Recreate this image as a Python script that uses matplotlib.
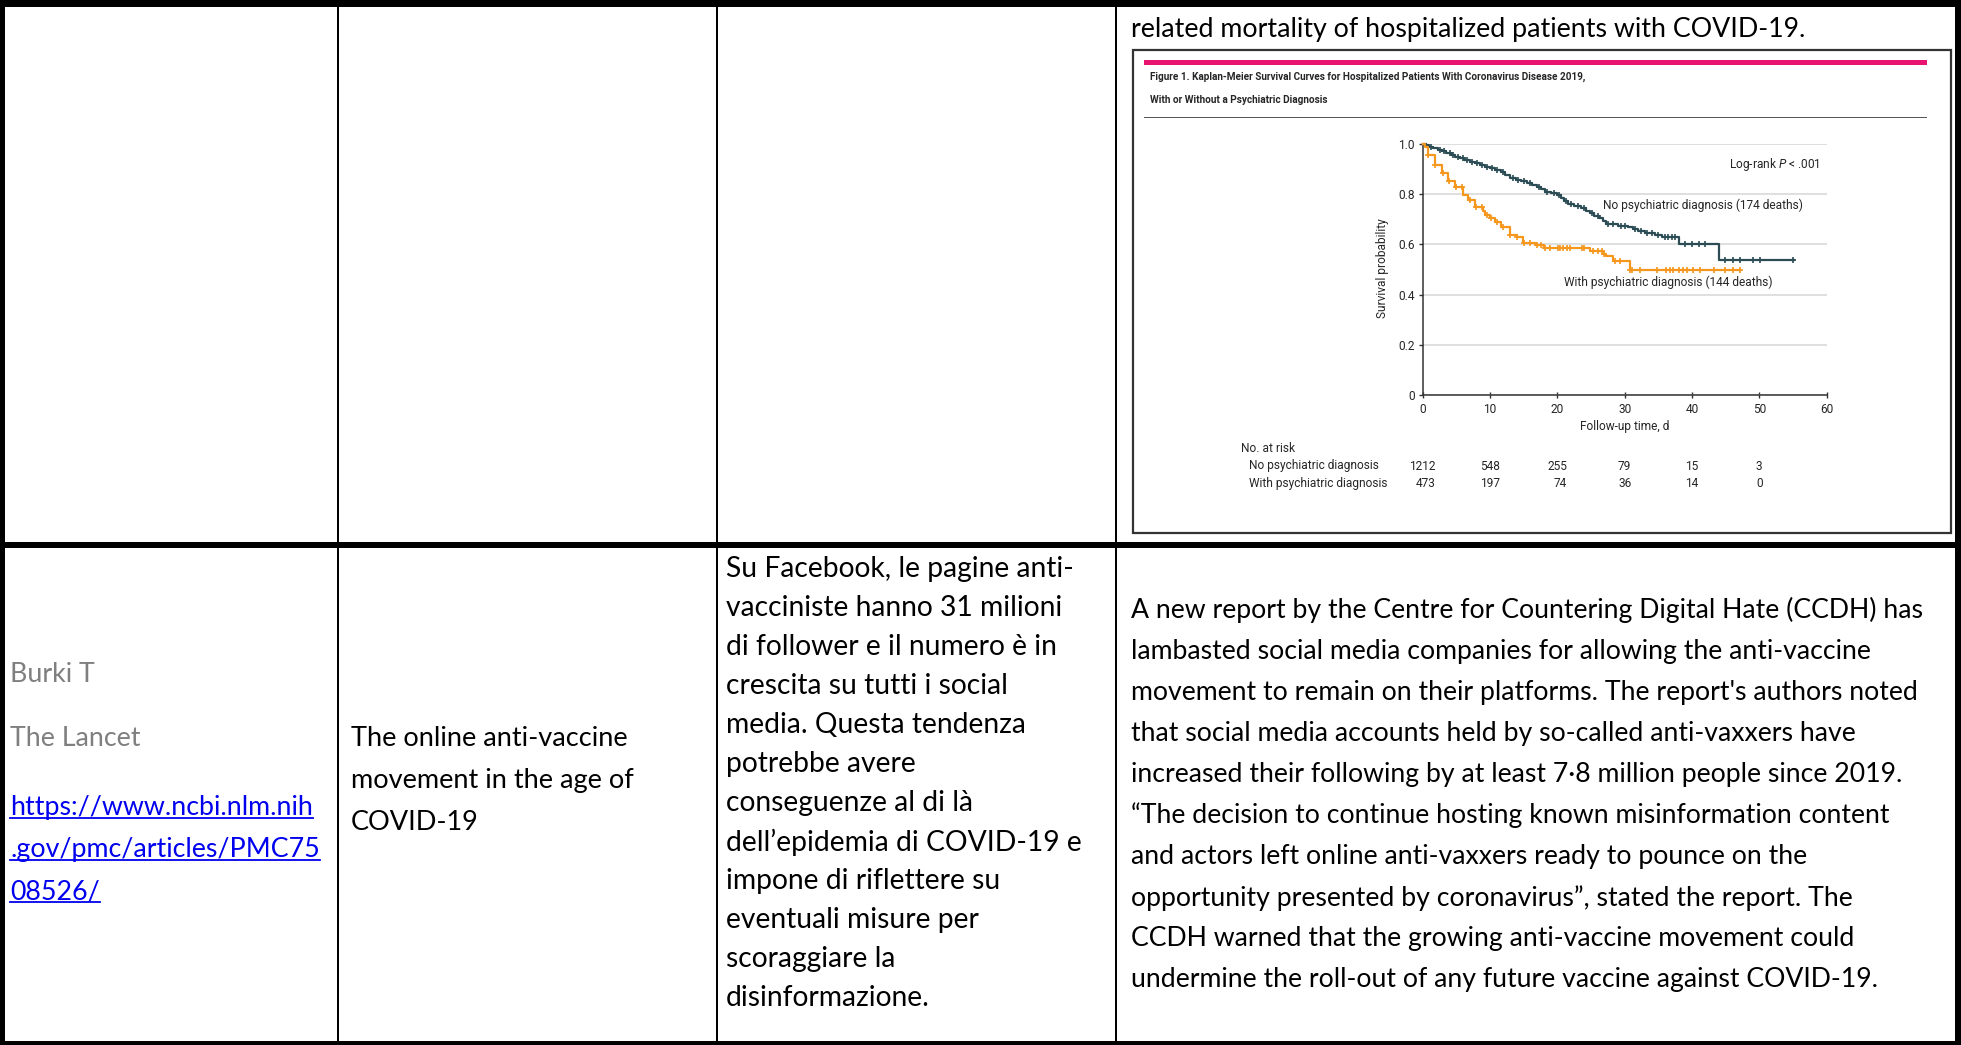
import numpy as np
import matplotlib
matplotlib.use('Agg')
import matplotlib.pyplot as plt
from matplotlib import font_manager
from matplotlib.patches import Rectangle
import matplotlib.transforms as mtransforms

# Kaplan-Meier steps, no psychiatric diagnosis (days, survival)
no_t = [0, 0.5, 1.0, 1.6, 2.2, 2.8, 3.5, 4.2, 4.8, 5.5, 6.2, 7.0, 7.8, 8.5, 9.2,
        10.0, 10.8, 11.6, 12.3, 13.0, 13.8, 14.6, 15.5, 16.3, 17.0, 17.6, 18.2,
        19.0, 20.0, 20.5, 21.0, 21.6, 22.5, 23.5, 24.2, 24.8, 25.5, 26.2, 26.8,
        27.2, 29.0, 30.5, 31.2, 32.0, 33.0, 34.5, 35.5, 38.0, 44.0, 55.2]
no_s = [1.0, 0.995, 0.99, 0.985, 0.978, 0.972, 0.965, 0.958, 0.95, 0.943, 0.936,
        0.93, 0.925, 0.918, 0.91, 0.903, 0.896, 0.888, 0.877, 0.866, 0.858, 0.852,
        0.846, 0.838, 0.83, 0.82, 0.81, 0.803, 0.797, 0.785, 0.773, 0.762, 0.752,
        0.745, 0.735, 0.725, 0.715, 0.705, 0.695, 0.68, 0.675, 0.668, 0.66, 0.652,
        0.645, 0.638, 0.628, 0.6, 0.538, 0.538]
no_cens = [1.3, 2.5, 3.2, 4.0, 4.5, 5.2, 6.0, 6.6, 7.3, 8.0, 8.8, 9.5, 10.3, 11.0,
           12.0, 13.4, 14.2, 15.0, 16.0, 17.3, 18.5, 19.5, 20.2, 21.3, 22.0, 23.0,
           24.0, 25.2, 26.0, 27.5, 28.3, 29.5, 30.0, 31.5, 32.5, 33.3, 34.0, 35.0,
           36.0, 36.5, 37.0, 37.5, 39.0, 40.0, 41.0, 41.9, 44.9, 46.1, 47.1, 49.1,
           50.1, 55.0]

# with psychiatric diagnosis
w_t = [0, 0.3, 0.85, 1.8, 2.8, 3.8, 4.8, 6.0, 6.8, 7.8, 9.0, 9.3, 10.0, 10.7, 11.7,
       13.0, 14.0, 14.9, 16.9, 18.0, 24.9, 26.8, 27.3, 28.3, 30.8, 47.2]
w_s = [1.0, 0.99, 0.956, 0.918, 0.886, 0.853, 0.827, 0.797, 0.777, 0.748, 0.735,
       0.717, 0.704, 0.69, 0.668, 0.637, 0.63, 0.604, 0.598, 0.584, 0.575, 0.563,
       0.552, 0.532, 0.5, 0.5]
w_cens = [0.85, 1.9, 3.0, 3.9, 5.0, 5.9, 7.0, 7.9, 8.8, 9.5, 10.2, 11.0, 12.0, 13.0,
          14.0, 15.0, 16.0, 17.0, 17.5, 18.2, 18.9, 20.1, 20.4, 20.9, 21.4, 21.9,
          23.6, 23.9, 25.3, 26.1, 26.6, 27.0, 28.6, 29.3, 30.8, 31.1, 32.3, 34.8,
          36.2, 36.7, 37.2, 38.0, 38.7, 39.2, 40.2, 41.2, 43.2, 44.9, 46.1, 47.1]

risk_days = [0, 10, 20, 30, 40, 50]
risk_no = [1212, 548, 255, 79, 15, 3]
risk_with = [473, 197, 74, 36, 14, 0]
xticks = [0, 10, 20, 30, 40, 50, 60]
yticks = [0, 0.2, 0.4, 0.6, 0.8, 1.0]
ytick_labels = ['0', '0.2', '0.4', '0.6', '0.8', '1.0']

fig_title = ['Figure 1. Kaplan-Meier Survival Curves for Hospitalized Patients With Coronavirus Disease 2019,',
             'With or Without a Psychiatric Diagnosis']
lbl_no = 'No psychiatric diagnosis (174 deaths)'
lbl_with = 'With psychiatric diagnosis (144 deaths)'
risk_rows = ['No psychiatric diagnosis', 'With psychiatric diagnosis']

top_line = 'related mortality of hospitalized patients with COVID-19.'
author = ['Burki T', 'The Lancet']
link = ['https://www.ncbi.nlm.nih', '.gov/pmc/articles/PMC75', '08526/']
paper = ['The online anti-vaccine', 'movement in the age of', 'COVID-19']
summary_it = ['Su Facebook, le pagine anti-', 'vacciniste hanno 31 milioni',
              'di follower e il numero è in', 'crescita su tutti i social',
              'media. Questa tendenza', 'potrebbe avere', 'conseguenze al di là',
              'dell’epidemia di COVID-19 e', 'impone di riflettere su',
              'eventuali misure per', 'scoraggiare la', 'disinformazione.']
summary_en = ['A new report by the Centre for Countering Digital Hate (CCDH) has',
              'lambasted social media companies for allowing the anti-vaccine',
              "movement to remain on their platforms. The report's authors noted",
              'that social media accounts held by so-called anti-vaxxers have',
              'increased their following by at least 7·8 million people since 2019.',
              '“The decision to continue hosting known misinformation content',
              'and actors left online anti-vaxxers ready to pounce on the',
              'opportunity presented by coronavirus”, stated the report. The',
              'CCDH warned that the growing anti-vaccine movement could',
              'undermine the roll-out of any future vaccine against COVID-19.']

installed = {f.name for f in font_manager.fontManager.ttflist}
chart_font = 'Roboto' if 'Roboto' in installed else 'DejaVu Sans'
doc_font = 'Lato' if 'Lato' in installed else 'DejaVu Sans'
fs = 8.6 if chart_font == 'Roboto' else 7.7

plt.rcParams['font.family'] = [chart_font, 'DejaVu Sans']
plt.rcParams['mathtext.fontset'] = 'custom'
plt.rcParams['mathtext.rm'] = chart_font
plt.rcParams['mathtext.it'] = chart_font + ':italic'

teal = '#2b4c54'
orange = '#f5961d'
ink = '#262626'

W, H = 1961, 1045
fig = plt.figure(figsize=(W / 100, H / 100), dpi=100)

# page layer in pixel units, y downwards
page = fig.add_axes([0, 0, 1, 1])
page.set_xlim(0, W)
page.set_ylim(H, 0)
page.axis('off')


def block(x0, y0, x1, y1, color='black'):
    page.add_patch(Rectangle((x0, y0), x1 - x0, y1 - y0, color=color, lw=0))


# table rules
block(0, 0, W, 7)
block(0, 0, 5, H)
block(1955, 0, W, H)
block(0, 1041, W, H)
block(0, 542, W, 548)
for cx in [338, 717, 1116]:
    block(cx - 0.8, 0, cx + 0.8, H)

# figure frame
page.add_patch(Rectangle((1133, 50), 818, 483, fill=False, edgecolor='#333333', lw=1.6))
block(1144, 60, 1927, 65, '#e8136f')
block(1144, 116.5, 1927, 118, '#555555')
for i, line in enumerate(fig_title):
    page.text(1150, 77 + 23 * i, line, fontsize=fs * 0.84, fontweight='bold',
              color=ink, va='center', ha='left')

# document text
page.text(1131, 30, top_line, family=doc_font, fontsize=19.3, va='center')
for i, line in enumerate(author):
    page.text(10, 675 + 64 * i, line, family=doc_font, fontsize=19.3,
              color='#7f7f7f', va='center')
link_txt = []
for i, line in enumerate(link):
    link_txt.append(page.text(10, 808 + 42 * i, line, family=doc_font, fontsize=19.3,
                              color='#0000ee', va='center'))
for i, line in enumerate(paper):
    page.text(351, 739 + 41.5 * i, line, family=doc_font, fontsize=19.5, va='center')
for i, line in enumerate(summary_it):
    page.text(726, 569 + 39 * i, line, family=doc_font, fontsize=20.3, va='center')
for i, line in enumerate(summary_en):
    page.text(1131, 610 + 41.1 * i, line, family=doc_font, fontsize=19.2, va='center')

# survival plot
ax = fig.add_axes([1422.7 / W, 1 - 395 / H, 403.9 / W, 251 / H])
ax.set_xlim(0, 60)
ax.set_ylim(0, 1.0)


def surv_at(t, s, x):
    idx = np.searchsorted(t, x, side='right') - 1
    return np.asarray(s)[idx]


ax.step(no_t, no_s, where='post', color=teal, lw=1.6, clip_on=False, zorder=3)
ax.plot(no_cens, surv_at(no_t, no_s, no_cens), ls='none', marker='+', ms=4.5,
        mew=1.2, color=teal, clip_on=False, zorder=3)
ax.step(w_t, w_s, where='post', color=orange, lw=1.6, clip_on=False, zorder=3)
ax.plot(w_cens, surv_at(w_t, w_s, w_cens), ls='none', marker='+', ms=4.5,
        mew=1.2, color=orange, clip_on=False, zorder=3)

ax.set_yticks(yticks)
ax.set_yticklabels(ytick_labels)
ax.set_xticks(xticks)
ax.yaxis.grid(True, color='#d6d6d6', lw=1.1)
ax.set_axisbelow(True)
for side in ['top', 'right']:
    ax.spines[side].set_visible(False)
for side in ['left', 'bottom']:
    ax.spines[side].set_color('#333333')
    ax.spines[side].set_linewidth(1.1)
ax.tick_params(axis='y', direction='out', length=3, width=1, color='#333333',
               labelsize=fs, labelcolor=ink, pad=2.5)
ax.tick_params(axis='x', direction='inout', length=5, width=1, color='#333333',
               labelsize=fs, labelcolor=ink, pad=3)
ax.set_xlabel('Follow-up time, d', fontsize=fs, color=ink, labelpad=3)
ax.set_ylabel('Survival probability', fontsize=fs, color=ink)
ax.yaxis.set_label_coords(-0.083, 0.506)

ax.text(59, 0.92, r'Log-rank $P$ < .001', fontsize=fs, color=ink,
        ha='right', va='center')
ax.text(26.8, 0.754, lbl_no, fontsize=fs, color=ink, ha='left', va='center')
ax.text(21.0, 0.45, lbl_with, fontsize=fs, color=ink, ha='left', va='center')

# numbers at risk: x follows the plot's day scale, y in page pixels
risk_tf = mtransforms.blended_transform_factory(ax.transData, page.transData)
page.text(1241, 448, 'No. at risk', fontsize=fs, color=ink, va='center')
for i, name in enumerate(risk_rows):
    page.text(1249, 466 + 17.5 * i, name, fontsize=fs, color=ink, va='center')
row1 = [page.text(d, 466, str(n), transform=risk_tf, fontsize=fs, color=ink,
                  ha='center', va='center') for d, n in zip(risk_days, risk_no)]

fig.canvas.draw()
renderer = fig.canvas.get_renderer()

# second row is right aligned under the first row's numbers
row2_tf = mtransforms.blended_transform_factory(mtransforms.IdentityTransform(),
                                                page.transData)
for t, n in zip(row1, risk_with):
    x1 = t.get_window_extent(renderer).x1
    page.text(x1, 483.5, str(n), transform=row2_tf, fontsize=fs, color=ink,
              ha='right', va='center')

# underline the link
for t in link_txt:
    bb = t.get_window_extent(renderer)
    yy = H - bb.y0 - 3
    page.plot([bb.x0, bb.x1], [yy, yy], color='#0000ee', lw=1.3)

fig.savefig('out.png', dpi=100)
